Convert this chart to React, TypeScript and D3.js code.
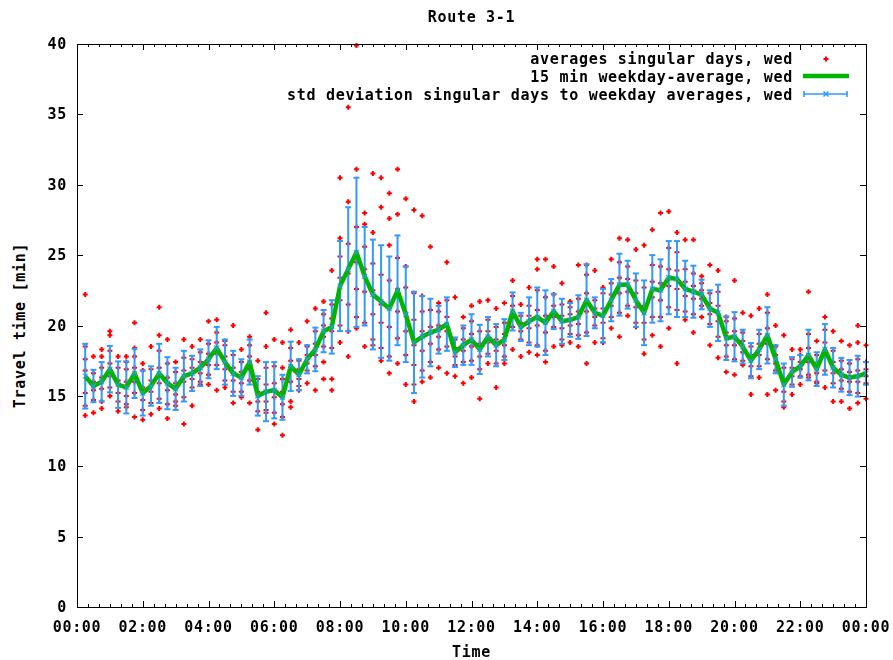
import React from "react";
import * as d3 from "d3";

const title = "Route 3-1";
const xLabel = "Time";
const yLabel = "Travel time [min]";
const legendLabels = [
  "averages singular days, wed",
  "15 min weekday-average, wed",
  "std deviation singular days to weekday averages, wed",
];
const xTickLabels = ["00:00", "02:00", "04:00", "06:00", "08:00", "10:00", "12:00", "14:00", "16:00", "18:00", "20:00", "22:00", "00:00"];
const yTickValues = [0, 5, 10, 15, 20, 25, 30, 35, 40];

// 15 min slots, 00:15 .. 24:00
const meanTravel = [
  16.4, 15.7, 16.0, 16.9, 15.8, 15.6, 16.6, 15.2, 15.7, 16.6, 15.9, 15.5, 16.4, 16.6, 17.0, 17.6, 18.4, 17.4, 16.6, 16.3, 17.4, 15.0, 15.3, 15.4,
  14.9, 17.1, 16.5, 17.6, 18.3, 19.6, 19.9, 22.8, 24.0, 25.2, 23.5, 22.2, 21.7, 21.2, 22.5, 20.8, 18.8, 19.2, 19.5, 19.7, 20.1, 18.1, 18.6, 19.0,
  18.3, 19.2, 18.6, 19.0, 21.0, 19.9, 20.3, 20.6, 20.2, 21.0, 20.3, 20.4, 20.6, 21.8, 20.9, 20.7, 21.8, 22.9, 22.9, 21.8, 20.9, 22.6, 22.5, 23.4,
  23.3, 22.6, 22.4, 22.2, 21.2, 20.9, 19.1, 19.2, 18.5, 17.5, 18.3, 19.3, 17.6, 15.8, 16.7, 17.1, 17.9, 16.9, 18.3, 17.0, 16.5, 16.3, 16.4, 16.6,
];

const stdTravel = [
  2.3, 1.15, 1.4, 1.65, 1.65, 1.85, 1.75, 1.6, 1.4, 2.1, 1.85, 1.5, 1.8, 1.25, 1.3, 1.35, 1.5, 1.6, 1.6, 1.3, 1.6, 1.4, 2.1, 2.0,
  1.6, 1.75, 1.1, 1.0, 1.55, 1.5, 1.9, 3.2, 4.4, 5.3, 3.5, 3.9, 4.0, 3.7, 3.9, 3.4, 3.6, 2.9, 2.4, 1.7, 1.9, 1.05, 1.4, 1.8,
  1.75, 1.4, 1.5, 1.45, 1.35, 1.0, 1.7, 2.1, 2.3, 1.25, 1.6, 1.2, 1.55, 2.55, 1.1, 1.9, 1.5, 2.2, 1.7, 1.9, 2.3, 2.4, 2.2, 2.6,
  2.7, 2.0, 1.85, 1.05, 1.3, 2.0, 1.55, 1.75, 1.2, 1.25, 1.4, 2.0, 1.0, 1.5, 1.05, 0.8, 1.8, 1.2, 1.8, 1.4, 1.2, 1.25, 1.45, 0.8,
];

const singularDays = [
  [13.6, 14.3, 15.2, 16.8, 17.6, 18.5, 22.2],
  [13.8, 14.7, 15.4, 16.0, 16.6, 17.8],
  [14.1, 14.6, 15.5, 16.3, 17.0, 17.8, 18.3],
  [15.0, 15.6, 16.4, 17.3, 18.2, 19.3, 19.6],
  [13.9, 14.6, 15.2, 16.1, 17.0, 17.8],
  [14.2, 14.4, 15.0, 16.0, 16.9, 17.4, 17.8],
  [13.5, 15.2, 16.0, 17.0, 17.8, 18.4, 20.2],
  [13.3, 14.0, 14.7, 15.6, 16.8, 17.3],
  [13.7, 14.5, 15.3, 16.1, 16.9, 18.5],
  [14.1, 14.8, 15.9, 17.0, 18.2, 19.3, 21.3],
  [13.4, 14.4, 15.4, 16.3, 17.3, 19.0],
  [14.3, 14.6, 15.1, 15.9, 16.7, 17.4],
  [13.0, 14.9, 16.0, 16.8, 17.7, 19.0],
  [14.3, 15.6, 16.2, 17.0, 17.6, 18.5],
  [15.8, 16.0, 16.6, 17.4, 18.1, 19.0],
  [15.8, 16.5, 17.2, 18.0, 18.7, 20.3],
  [15.4, 17.2, 18.0, 18.8, 19.5, 20.4],
  [15.6, 16.1, 16.9, 17.8, 18.6, 18.9],
  [14.5, 15.3, 16.1, 17.0, 17.9, 20.0],
  [14.9, 15.3, 15.9, 16.7, 17.4, 18.3],
  [14.5, 16.1, 16.9, 17.8, 18.6, 19.2],
  [12.6, 13.9, 14.6, 15.3, 16.2, 17.5],
  [13.8, 14.0, 14.6, 15.8, 17.0, 18.5, 20.9],
  [13.0, 13.8, 14.9, 15.9, 17.1, 19.0],
  [12.2, 13.5, 14.4, 15.3, 16.2, 17.0, 18.8],
  [14.2, 14.6, 16.0, 17.5, 18.4, 19.7],
  [15.4, 15.7, 16.2, 16.9, 17.5, 18.8],
  [15.9, 16.8, 17.3, 17.9, 18.5, 20.3],
  [15.4, 17.1, 17.9, 18.7, 19.6, 21.2],
  [16.2, 17.4, 18.5, 19.2, 20.0, 20.8, 21.7],
  [15.4, 16.2, 18.4, 19.6, 20.5, 21.5, 23.9],
  [18.8, 20.0, 21.8, 23.4, 24.9, 26.2, 30.5],
  [17.8, 19.6, 21.5, 23.7, 25.8, 28.8, 35.5],
  [19.8, 20.6, 22.6, 24.5, 27.0, 31.1, 39.9],
  [18.5, 20.2, 22.4, 24.0, 25.6, 27.2, 28.0],
  [18.6, 19.0, 20.8, 22.5, 24.4, 26.6, 30.8],
  [17.5, 18.4, 20.2, 21.5, 23.6, 28.4, 30.5],
  [16.6, 17.8, 19.9, 21.3, 23.2, 25.7, 27.6, 29.4],
  [17.3, 19.1, 21.0, 22.6, 24.8, 27.9, 31.1],
  [15.8, 17.9, 19.6, 20.9, 22.7, 24.2, 29.0],
  [14.6, 15.8, 17.2, 18.6, 20.4, 22.3, 28.2],
  [16.0, 16.8, 18.2, 19.6, 21.0, 22.1, 27.8],
  [16.3, 17.4, 18.7, 19.9, 21.1, 25.6],
  [17.0, 18.3, 19.2, 20.0, 21.0, 21.6],
  [16.6, 18.5, 19.6, 20.6, 21.8, 24.5],
  [16.4, 17.2, 17.8, 18.4, 19.0, 22.0],
  [15.9, 17.4, 18.2, 19.0, 19.8, 20.6],
  [16.3, 17.5, 18.5, 19.4, 20.3, 21.4],
  [14.8, 16.9, 17.8, 18.7, 19.6, 21.7],
  [17.3, 18.0, 18.8, 19.6, 20.4, 21.8],
  [15.6, 17.3, 18.2, 19.0, 19.9, 21.2],
  [17.3, 17.8, 18.6, 19.4, 20.2, 21.6],
  [18.3, 19.9, 20.6, 21.4, 22.1, 23.2],
  [17.8, 19.0, 19.6, 20.2, 20.7, 21.5],
  [18.1, 18.8, 19.8, 20.7, 21.4, 22.7],
  [17.9, 18.6, 20.0, 21.1, 22.5, 24.0, 24.7],
  [17.4, 18.2, 19.5, 20.7, 22.0, 24.7],
  [18.5, 19.9, 20.6, 21.4, 22.2, 24.2],
  [18.6, 19.0, 19.8, 20.7, 21.5, 23.0],
  [18.8, 19.4, 20.0, 20.8, 21.3, 21.7],
  [18.5, 19.3, 20.1, 21.0, 21.9, 24.3],
  [17.3, 19.5, 21.0, 22.3, 23.6, 24.3],
  [18.8, 20.0, 20.6, 21.2, 21.8, 23.9],
  [18.8, 19.1, 20.2, 21.2, 22.3, 22.7],
  [19.8, 20.6, 21.4, 22.2, 23.0, 24.7],
  [19.2, 20.9, 22.3, 23.4, 24.5, 26.2],
  [20.7, 21.4, 22.4, 23.3, 24.2, 26.1],
  [19.9, 20.2, 21.3, 22.3, 23.2, 25.4],
  [18.0, 19.0, 20.2, 21.4, 22.7, 25.7],
  [19.3, 20.6, 22.0, 23.1, 24.3, 26.8],
  [18.5, 20.6, 21.8, 23.0, 24.2, 28.0],
  [19.8, 21.3, 22.8, 24.0, 25.5, 28.1],
  [17.3, 21.1, 22.6, 23.9, 25.2, 26.6],
  [20.4, 21.0, 22.1, 23.1, 24.0, 26.1],
  [19.5, 20.8, 21.9, 22.8, 23.7, 26.1],
  [20.6, 21.4, 21.9, 22.5, 23.0, 23.5],
  [18.6, 20.1, 20.8, 21.6, 22.3, 24.3],
  [17.7, 19.2, 20.3, 21.4, 22.4, 23.9],
  [16.7, 17.8, 18.6, 19.5, 20.3, 20.6],
  [16.5, 17.6, 18.6, 19.6, 20.5, 23.2],
  [17.2, 17.5, 18.1, 18.9, 19.5, 20.9],
  [15.1, 16.4, 17.1, 17.9, 18.5, 20.7],
  [16.3, 17.1, 17.9, 18.7, 19.4, 21.2],
  [15.1, 17.6, 18.7, 19.8, 20.9, 22.2],
  [15.4, 16.8, 17.3, 17.9, 18.5, 20.0],
  [14.2, 14.6, 15.3, 16.2, 17.0, 19.3],
  [15.1, 15.8, 16.4, 17.0, 17.6, 18.3],
  [15.8, 16.4, 16.9, 17.4, 17.9, 18.3],
  [16.3, 16.5, 17.4, 18.4, 19.4, 22.4],
  [15.9, 16.0, 16.6, 17.3, 17.9, 18.9],
  [15.6, 16.8, 17.8, 18.8, 19.7, 20.6],
  [14.6, 15.9, 16.6, 17.4, 18.2, 19.6],
  [14.6, 15.5, 16.1, 16.9, 17.5, 18.9],
  [14.1, 15.3, 16.0, 16.7, 17.3, 18.6],
  [14.5, 15.2, 16.0, 16.8, 17.6, 18.8, 20.0],
  [14.8, 15.9, 16.4, 16.9, 17.4, 18.6],
];

const RED = "#ff0000";
const GREEN = "#00b400";
const BLUE = "#3399ff";
const font = { fontFamily: "'DejaVu Sans Mono', monospace", fontWeight: "bold" as const, fontSize: 15, letterSpacing: 0.7 };

const plusPath = "M-2.5,0H2.5M0,-2.5V2.5";
const crossPath = "M-2.5,-2.5L2.5,2.5M-2.5,2.5L2.5,-2.5";

export default function App() {
  const x = d3.scaleLinear().domain([0, 1440]).range([77, 866]);
  const y = d3.scaleLinear().domain([0, 40]).range([607, 44]);
  const slotMin = meanTravel.map((_, i) => (i + 1) * 15);

  const line = d3
    .line<number>()
    .x((_, i) => x(slotMin[i]))
    .y((d) => y(d));

  const majorX = xTickLabels.map((_, i) => i * 120);
  const minorX = d3.range(0, 1441, 20).filter((m) => m % 120 !== 0);
  const [x0, x1] = x.range();
  const [yb, yt] = y.range();

  return (
    <svg width={893} height={660} style={{ position: "absolute", left: 0, top: 0, background: "#fff" }}>
      {/* singular days */}
      <g stroke={RED} strokeWidth={2} fill="none">
        {singularDays.map((vals, i) =>
          vals.map((v, j) => (
            <path key={i + "-" + j} d={plusPath} transform={`translate(${x(slotMin[i])},${y(v)})`} />
          ))
        )}
      </g>

      {/* std deviation bars */}
      <g stroke={BLUE} strokeWidth={2} fill="none">
        {meanTravel.map((m, i) => {
          const cx = x(slotMin[i]);
          const top = y(m + stdTravel[i]);
          const bot = y(m - stdTravel[i]);
          return (
            <g key={i}>
              <line x1={cx} x2={cx} y1={top} y2={bot} />
              <line x1={cx - 3} x2={cx + 3} y1={top} y2={top} />
              <line x1={cx - 3} x2={cx + 3} y1={bot} y2={bot} />
            </g>
          );
        })}
      </g>

      {/* weekday average */}
      <path d={line(meanTravel) || ""} fill="none" stroke={GREEN} strokeWidth={4.5} strokeLinejoin="round" />
      <g stroke={BLUE} strokeWidth={1.2} fill="none" opacity={0.85}>
        {meanTravel.map((m, i) => (
          <path key={i} d={crossPath} transform={`translate(${x(slotMin[i])},${y(m)})`} />
        ))}
      </g>

      {/* frame */}
      <g stroke="#000" strokeWidth={1} shapeRendering="crispEdges" fill="none">
        <rect x={x0 + 0.5} y={yt + 0.5} width={x1 - x0} height={yb - yt} />
        {majorX.map((m) => (
          <g key={"mx" + m}>
            <line x1={Math.round(x(m)) + 0.5} x2={Math.round(x(m)) + 0.5} y1={yb} y2={yb - 6} />
            <line x1={Math.round(x(m)) + 0.5} x2={Math.round(x(m)) + 0.5} y1={yt} y2={yt + 6} />
          </g>
        ))}
        {minorX.map((m) => (
          <g key={"nx" + m}>
            <line x1={Math.round(x(m)) + 0.5} x2={Math.round(x(m)) + 0.5} y1={yb} y2={yb - 3} />
            <line x1={Math.round(x(m)) + 0.5} x2={Math.round(x(m)) + 0.5} y1={yt} y2={yt + 3} />
          </g>
        ))}
        {yTickValues.map((v) => (
          <g key={"y" + v}>
            <line x1={x0} x2={x0 + 6} y1={Math.round(y(v)) + 0.5} y2={Math.round(y(v)) + 0.5} />
            <line x1={x1} x2={x1 - 6} y1={Math.round(y(v)) + 0.5} y2={Math.round(y(v)) + 0.5} />
          </g>
        ))}
      </g>

      <g {...font} fill="#000">
        {yTickValues.map((v) => (
          <text key={"yl" + v} x={67} y={y(v) + 5} textAnchor="end">
            {v}
          </text>
        ))}
        {xTickLabels.map((lab, i) => (
          <text key={"xl" + i} x={x(majorX[i])} y={632} textAnchor="middle">
            {lab}
          </text>
        ))}
        <text x={(x0 + x1) / 2} y={22} textAnchor="middle">
          {title}
        </text>
        <text x={(x0 + x1) / 2} y={657} textAnchor="middle">
          {xLabel}
        </text>
        <text transform={`translate(25,${(yt + yb) / 2}) rotate(-90)`} textAnchor="middle">
          {yLabel}
        </text>
        {legendLabels.map((lab, i) => (
          <text key={"lg" + i} x={793} y={64 + i * 18} textAnchor="end">
            {lab}
          </text>
        ))}
      </g>

      {/* legend samples */}
      <path d={plusPath} transform="translate(826,59)" stroke={RED} strokeWidth={2} fill="none" />
      <line x1={803} x2={849} y1={76} y2={76} stroke={GREEN} strokeWidth={4.5} />
      <g stroke={BLUE} strokeWidth={1.6} fill="none">
        <line x1={804} x2={847} y1={94} y2={94} />
        <line x1={804} x2={804} y1={91} y2={97} />
        <line x1={847} x2={847} y1={91} y2={97} />
        <path d={crossPath} transform="translate(826,94)" />
      </g>
    </svg>
  );
}
